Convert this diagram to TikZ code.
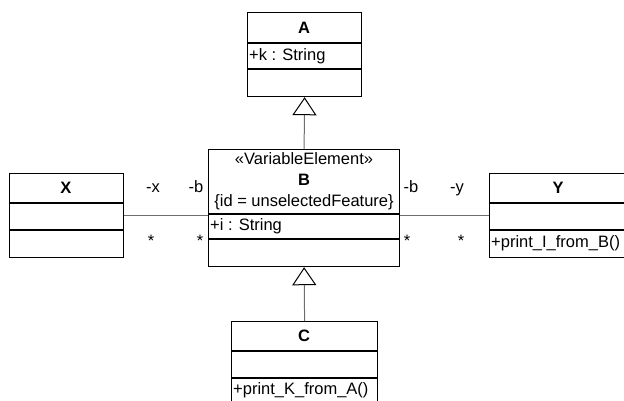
\documentclass[tikz,border=0pt]{standalone}
\usepackage{fontspec}
\setmainfont{Liberation Sans}
\usetikzlibrary{arrows.meta}

\definecolor{linkgrey}{HTML}{6E6E6E}

\tikzset{
  classbox/.style={draw=black, line width=1.2pt, fill=white, inner sep=0pt,
                   anchor=north west},
  divider/.style={draw=black, line width=1.2pt},
  cname/.style={inner sep=0pt, font=\fontsize{16.5}{20}\selectfont\bfseries},
  member/.style={inner sep=0pt, anchor=west, font=\fontsize{16.5}{20}\selectfont},
  rolelabel/.style={inner sep=0pt, anchor=base, font=\fontsize{16.5}{20}\selectfont},
  multlabel/.style={inner sep=0pt, font=\fontsize{16.5}{20}\selectfont},
  assoc/.style={draw=linkgrey, line width=1pt},
  generalize/.style={draw=linkgrey, line width=1pt,
    -{Triangle[open, length=18pt, width=24pt, line width=1pt, color=black, fill=white]}},
}

\begin{document}
\begin{tikzpicture}[x=1pt, y=-1pt]
  \path[use as bounding box] (0,0) rectangle (624,401);
  \clip (0,0) rectangle (624,401);

  % class A
  \node[classbox, minimum width=114pt, minimum height=84pt] (A) at (247,12) {};
  \draw[divider] (A.west |- 0,43) -- (A.east |- 0,43);
  \draw[divider] (A.west |- 0,69) -- (A.east |- 0,69);
  \node[cname] (Aname) at (304,27.5) {A};
  \node[member] (Aattr) at (249,56) {+k : String};

  % class B
  \node[classbox, minimum width=191pt, minimum height=117pt] (B) at (208,149) {};
  \draw[divider] (B.west |- 0,214) -- (B.east |- 0,214);
  \draw[divider] (B.west |- 0,239) -- (B.east |- 0,239);
  \node[inner sep=0pt, align=center, font=\fontsize{16.5}{21}\selectfont] (Bhead) at (304,181)
    {«VariableElement»\\\textbf{B}\\\{id = unselectedFeature\}};
  \node[member] (Battr) at (210,226.5) {+i : String};

  % class X
  \node[classbox, minimum width=114pt, minimum height=84pt] (X) at (9,173) {};
  \draw[divider] (X.west |- 0,203) -- (X.east |- 0,203);
  \draw[divider] (X.west |- 0,230) -- (X.east |- 0,230);
  \node[cname] (Xname) at (66,188) {X};

  % class Y (runs past the right edge)
  \node[classbox, minimum width=142pt, minimum height=84pt] (Y) at (489,173) {};
  \draw[divider] (Y.west |- 0,203) -- (Y.east |- 0,203);
  \draw[divider] (Y.west |- 0,230) -- (Y.east |- 0,230);
  \node[cname] (Yname) at (558,188) {Y};
  \node[member] (Yop) at (491,243.5) {+print\_I\_from\_B()};

  % class C (runs past the bottom edge)
  \node[classbox, minimum width=146pt, minimum height=110pt] (C) at (231,321) {};
  \draw[divider] (C.west |- 0,351) -- (C.east |- 0,351);
  \draw[divider] (C.west |- 0,378) -- (C.east |- 0,378);
  \node[cname] (Cname) at (304,336) {C};
  \node[member] (Cop) at (233,390.5) {+print\_K\_from\_A()};

  % associations
  \draw[assoc] (X.east) -- (X.east -| B.west);
  \draw[assoc] (Y.west) -- (Y.west -| B.east);

  % generalizations
  \draw[generalize] (B.north) -- (A.south);
  \draw[generalize] (C.north) -- (B.south);

  % role names and multiplicities
  \node[rolelabel] (xrole) at (153,193) {-x};
  \node[rolelabel] (bleft) at (196,193) {-b};
  \node[multlabel] (xmult) at (151,241) {*};
  \node[multlabel] (bmultl) at (200,241) {*};
  \node[rolelabel] (bright) at (411,193) {-b};
  \node[rolelabel] (yrole) at (457,193) {-y};
  \node[multlabel] (bmultr) at (407,241) {*};
  \node[multlabel] (ymult) at (461,241) {*};
\end{tikzpicture}
\end{document}
